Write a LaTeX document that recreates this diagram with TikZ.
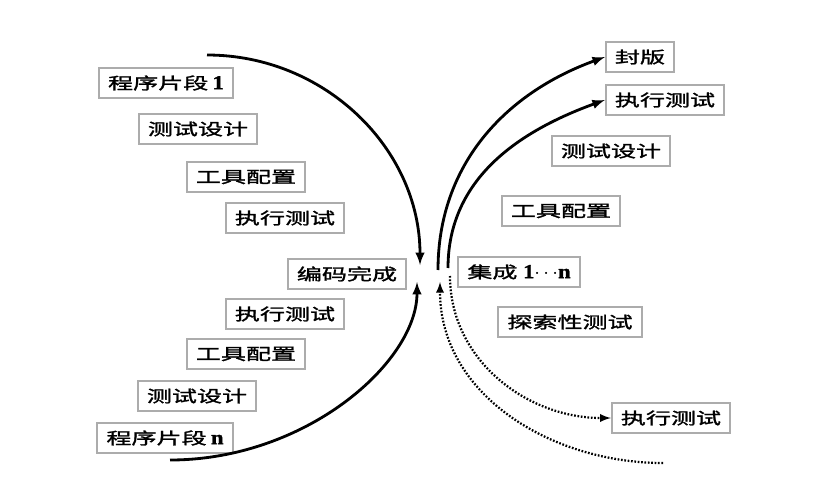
\documentclass[tikz,border=0pt]{standalone}
\usepackage{fontspec}
\setmainfont{Noto Sans CJK SC}[FakeStretch=1.55, FakeBold=1.6]
\newfontfamily\latnum{Liberation Serif}[FakeBold=1.5, FakeStretch=1.15]
\newcommand\latpart[1]{{\fontsize{14}{14}\selectfont\latnum\bfseries #1}}

\begin{document}
\begin{tikzpicture}[x=0.025cm, y=0.025cm,
        box/.style={draw=gray!65, line width=1.3pt, fill=white, minimum height=21pt,
                    inner xsep=6.5pt, font=\fontsize{11.5}{12}\selectfont},
        arc/.style={line width=2pt, -latex},
        dotarc/.style={line width=1.6pt, dash pattern=on 1.2pt off 1.2pt, -latex}]
        \useasboundingbox (0,0) rectangle (813,488);
        % Left, upper half
        \node[box] (seg1) at (166,405) {程序片段\hspace{3pt}\latpart{1}};
        \node[box] (design1) at (198,359) {测试设计};
        \node[box] (tools1) at (246,311) {工具配置};
        \node[box] (exec1) at (285,270) {执行测试};
        % Coding done
        \node[box] (coded) at (347,214) {编码完成};
        % Left, lower half
        \node[box] (exec2) at (285,174) {执行测试};
        \node[box] (tools2) at (246,134) {工具配置};
        \node[box] (design2) at (197,92) {测试设计};
        \node[box] (segn) at (165,50) {程序片段\hspace{3pt}\latpart{n}};
        % Right side
        \node[box] (freeze) at (640,431) {封版};
        \node[box] (exec3) at (665,388) {执行测试};
        \node[box] (design3) at (611,337) {测试设计};
        \node[box] (tools3) at (561,277) {工具配置};
        \node[box] (integ) at (519,216) {集成\hspace{4pt}\latpart{1$\cdots$n}};
        \node[box] (explore) at (570,166) {探索性测试};
        \node[box] (exec4) at (671,70) {执行测试};
        % free ends of the arcs
        \coordinate (topstart) at (207,433);
        \coordinate (topend) at (420,223);
        \coordinate (botstart) at (170,28);
        \coordinate (botend) at (417,206);
        \coordinate (rstart1) at (438,218);
        \coordinate (rstart2) at (448,220);
        \coordinate (dstart1) at (663,25);
        \coordinate (dend1) at (440,206);
        \coordinate (dstart2) at (450,212);
        % Left arcs
        \draw[arc] (topstart) .. controls (325,433) and (420,339) .. (topend);
        \draw[arc] (botstart) .. controls (306,28) and (417,126) .. (botend);
        % Right arcs
        \draw[arc] (rstart1) to[out=90, in=200] (freeze.west);
        \draw[arc] (rstart2) to[out=90, in=200] (exec3.west);
        % Dotted arcs
        \draw[dotarc] (dstart1) to[out=180, in=-90] (dend1);
        \draw[dotarc] (dstart2) to[out=-90, in=180] (exec4.west);
\end{tikzpicture}
\end{document}
